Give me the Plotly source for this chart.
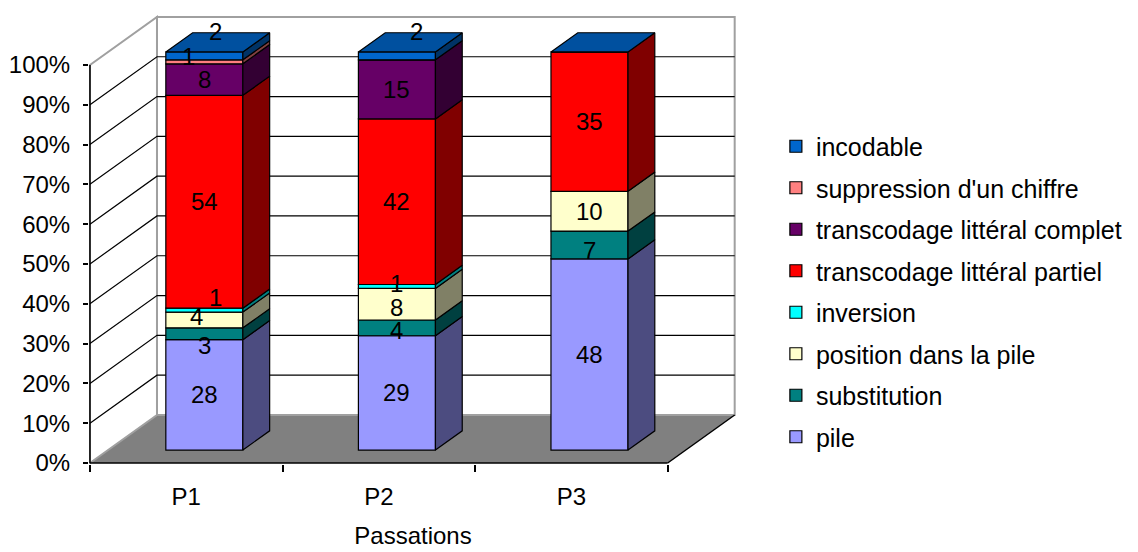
import plotly.graph_objects as go

# ---------------- data ----------------
categories = ["P1", "P2", "P3"]
series_names = [
    "pile",
    "substitution",
    "position dans la pile",
    "inversion",
    "transcodage littéral partiel",
    "transcodage littéral complet",
    "suppression d'un chiffre",
    "incodable",
]
pile = [28, 29, 48]
substitution = [3, 4, 7]
position_pile = [4, 8, 10]
inversion = [1, 1, 0]
partiel = [54, 42, 35]
complet = [8, 15, 0]
suppression = [1, 0, 0]
incodable = [2, 2, 0]
y_tick_values = [0, 10, 20, 30, 40, 50, 60, 70, 80, 90, 100]
y_tick_labels = ["0%", "10%", "20%", "30%", "40%", "50%", "60%", "70%", "80%", "90%", "100%"]
x_title = "Passations"

series_values = [pile, substitution, position_pile, inversion, partiel, complet, suppression, incodable]

# ---------------- style ----------------
front_colors = ["#9999FF", "#008080", "#FFFFCC", "#00FFFF", "#FF0000", "#660066", "#FF8080", "#0066CC"]
side_colors = ["#4C4C80", "#004040", "#808066", "#008080", "#800000", "#330033", "#804040", "#003366"]
top_color = "#00509F"
FONT = "Liberation Sans, Arial, sans-serif"
FS = 24

# oblique projection (depth z: 0 = front plane, 1 = back wall)
KX = 0.348   # x-units of full depth
KY = 12.06   # percent-units of full depth
ZF, ZB = 0.27, 0.67
HW = 0.2
XL, XR = -0.5, 2.5

# label nudges in pixels (x, y-up) and per-label font sizes for crowded spots
nudges = {
    ("incodable", "P1"): (11, 24),
    ("suppression d'un chiffre", "P1"): (-16, 5),
    ("inversion", "P1"): (11, 13),
    ("position dans la pile", "P1"): (-8, 3),
    ("substitution", "P1"): (0, -12),
    ("incodable", "P2"): (20, 24),
    ("inversion", "P2"): (0, 3),
    ("position dans la pile", "P2"): (0, -3),
    ("substitution", "P2"): (0, -3),
    ("substitution", "P3"): (0, -5),
}


def proj(x, p, z):
    return x + z * KX, p + z * KY


def path(points):
    return "M " + " L ".join(f"{x},{y}" for x, y in points) + " Z"


def line_path(points):
    return "M " + " L ".join(f"{x},{y}" for x, y in points)


totals = [sum(s[i] for s in series_values) for i in range(len(categories))]
pcts = [[v / totals[i] * 100 for i, v in enumerate(s)] for s in series_values]
xc = list(range(len(categories)))

fig = go.Figure()
shapes = []

# walls and floor
floor = [proj(XL, 0, 0), proj(XR, 0, 0), proj(XR, 0, 1), proj(XL, 0, 1)]
shapes.append(dict(type="path", path=path(floor), fillcolor="#808080", line=dict(width=0), layer="below"))
back = [proj(XL, 0, 1), proj(XR, 0, 1), proj(XR, 100, 1), proj(XL, 100, 1)]
shapes.append(dict(type="path", path=path(back), fillcolor="white", line=dict(color="#A0A0A0", width=2), layer="below"))
side = [proj(XL, 0, 0), proj(XL, 0, 1), proj(XL, 100, 1), proj(XL, 100, 0)]
shapes.append(dict(type="path", path=path(side), fillcolor="white", line=dict(color="#A0A0A0", width=2), layer="below"))
for t in y_tick_values[1:-1]:
    pts = [proj(XL, t, 0), proj(XL, t, 1), proj(XR, t, 1)]
    shapes.append(dict(type="path", path=line_path(pts), line=dict(color="black", width=1.2), layer="below"))
shapes.append(dict(type="path", path=line_path([proj(XR, 0, 0), proj(XR, 0, 1)]),
                   line=dict(color="black", width=1.5), layer="below"))
shapes.append(dict(type="path", path=line_path([proj(XL, 0, 0), proj(XR, 0, 0)]),
                   line=dict(color="black", width=1.5), layer="below"))
shapes.append(dict(type="path", path=line_path([proj(XL, 0, 0), proj(XL, 100, 0)]),
                   line=dict(color="black", width=1.5), layer="below"))

# front faces as bars
cums = []
n_series = len(series_names)
for si, name in enumerate(series_names):
    base = [sum(pcts[k][i] for k in range(si)) for i in range(len(categories))]
    cums.append(base)
    fx, _ = proj(0, 0, ZF)
    fig.add_trace(go.Bar(
        x=[x + fx for x in xc],
        y=pcts[si],
        base=[b + ZF * KY for b in base],
        width=2 * HW,
        name=name,
        legendgroup=name,
        legendrank=n_series - si,
        marker=dict(color=front_colors[si], line=dict(color="black", width=1.2)),
        hoverinfo="skip",
    ))

# side faces
for si, name in enumerate(series_names):
    for i in range(len(categories)):
        if series_values[si][i] == 0:
            continue
        c0 = cums[si][i]
        c1 = c0 + pcts[si][i]
        pts = [proj(xc[i] + HW, c0, ZF), proj(xc[i] + HW, c0, ZB),
               proj(xc[i] + HW, c1, ZB), proj(xc[i] + HW, c1, ZF), proj(xc[i] + HW, c0, ZF)]
        fig.add_trace(go.Scatter(
            x=[p[0] for p in pts], y=[p[1] for p in pts], mode="lines", fill="toself",
            fillcolor=side_colors[si], line=dict(color="black", width=1.2),
            showlegend=False, hoverinfo="skip"))

# top faces
for i in range(len(categories)):
    top = sum(pcts[k][i] for k in range(n_series))
    pts = [proj(xc[i] - HW, top, ZF), proj(xc[i] + HW, top, ZF),
           proj(xc[i] + HW, top, ZB), proj(xc[i] - HW, top, ZB), proj(xc[i] - HW, top, ZF)]
    fig.add_trace(go.Scatter(
        x=[p[0] for p in pts], y=[p[1] for p in pts], mode="lines", fill="toself",
        fillcolor=top_color, line=dict(color="black", width=1.2),
        showlegend=False, hoverinfo="skip"))

# data labels
annotations = []
for si, name in enumerate(series_names):
    for i, cat in enumerate(categories):
        v = series_values[si][i]
        if v == 0:
            continue
        mid = cums[si][i] + pcts[si][i] / 2
        x, y = proj(xc[i], mid, ZF)
        dx, dy = nudges.get((name, cat), (0, 0))
        annotations.append(dict(x=x, y=y, text=str(v), showarrow=False, xshift=dx, yshift=dy,
                                font=dict(family=FONT, size=FS, color="black")))

fig.update_layout(
    width=1138, height=552,
    margin=dict(l=89, r=401, t=10, b=88),
    paper_bgcolor="white", plot_bgcolor="white",
    barmode="overlay",
    font=dict(family=FONT, size=FS, color="black"),
    shapes=shapes,
    annotations=annotations,
    legend=dict(x=1.06, y=0.750, xanchor="left", yanchor="top",
                traceorder="grouped", tracegroupgap=6,
                font=dict(family=FONT, size=25, color="black"),
                bgcolor="rgba(0,0,0,0)"),
    xaxis=dict(range=[-0.505, 2.86], tickmode="array", tickvals=xc, ticktext=categories,
               ticks="", showgrid=False, zeroline=False, showline=False, automargin=False,
               ticklabelstandoff=16,
               minor=dict(tickmode="array", tickvals=[XL + k for k in range(len(categories) + 1)],
                          ticks="outside", ticklen=7, tickcolor="black", tickwidth=1.5, showgrid=False),
               title=dict(text=x_title, standoff=18, font=dict(family=FONT, size=FS))),
    yaxis=dict(range=[-0.25, 113.8], tickmode="array", tickvals=y_tick_values, ticktext=y_tick_labels,
               ticks="outside", ticklen=5, tickcolor="black", tickwidth=1.5, automargin=False,
               showgrid=False, zeroline=False, showline=False, ticklabelstandoff=8),
)

fig.write_html("out.html")
